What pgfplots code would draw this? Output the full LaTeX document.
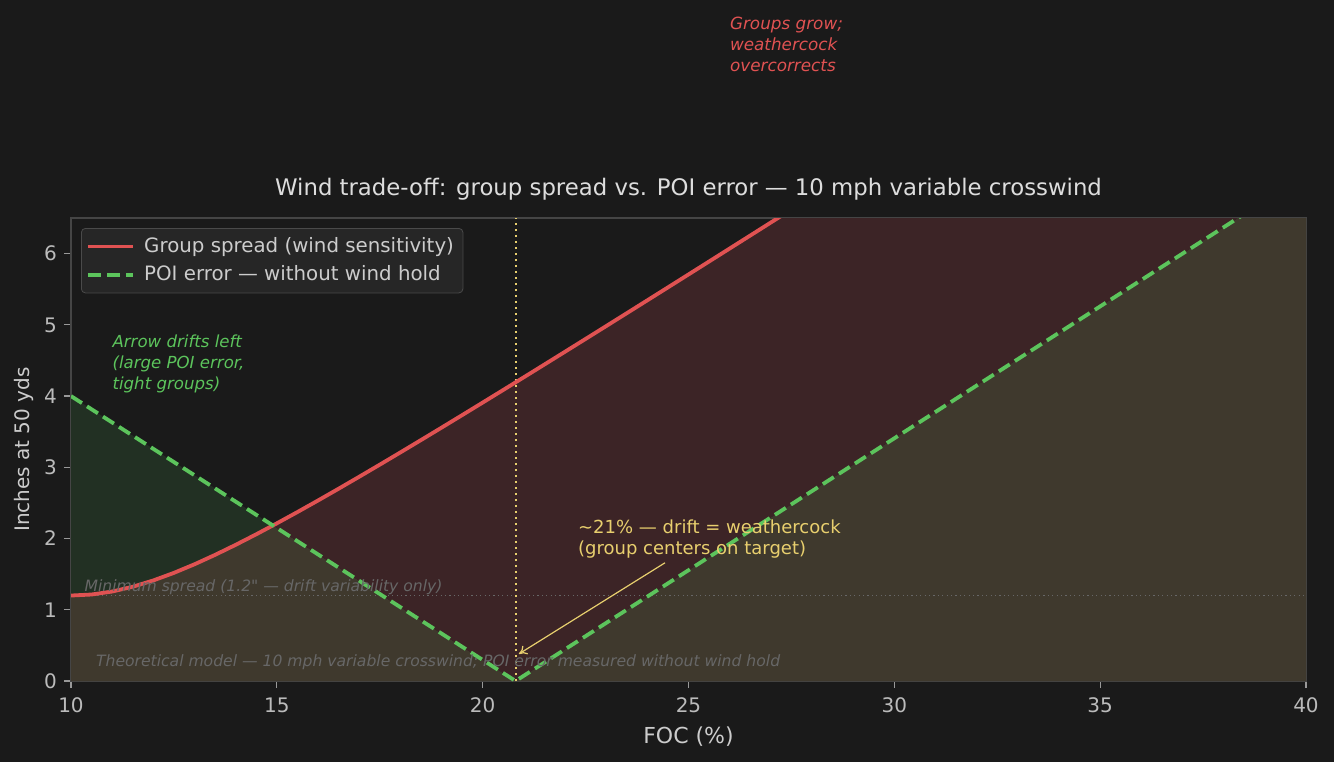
\documentclass[border=0pt]{standalone}
\usepackage{fontspec}
\setmainfont{DejaVu Sans}[Ligatures=TeXOff]
\usepackage{pgfplots}
\pgfplotsset{compat=1.18}
\usetikzlibrary{arrows.meta}

\definecolor{bg}{HTML}{1A1A1A}
\definecolor{spine}{HTML}{454545}
\definecolor{tickc}{HTML}{999999}
\definecolor{tickl}{HTML}{BBBBBB}
\definecolor{labc}{HTML}{CCCCCC}
\definecolor{titlec}{HTML}{DDDDDD}
\definecolor{legbg}{HTML}{262626}
\definecolor{legedge}{HTML}{4A4A4A}
\definecolor{spreadc}{HTML}{E05252}
\definecolor{poic}{HTML}{5CC45C}
\definecolor{yelc}{HTML}{E8CF6E}
\definecolor{greyt}{HTML}{676767}
\definecolor{olivef}{HTML}{3F392D}
\definecolor{redf}{HTML}{3C2426}
\definecolor{greenf}{HTML}{223023}

\begin{document}
\begin{tikzpicture}
\fill[bg] (0,0) rectangle (667pt,381pt);
\useasboundingbox (0,0) rectangle (667pt,381pt);
\begin{axis}[
    at={(35.5pt,40.5pt)}, anchor=south west,
    scale only axis, width=617.5pt, height=231.5pt,
    xmin=10, xmax=40, ymin=0, ymax=6.5,
    xtick={10,15,...,40}, ytick={0,1,...,6},
    clip mode=individual,
    axis line style={color=spine, line width=0.6pt},
    tick align=outside, major tick length=3.5pt,
    every tick/.style={color=tickc, line width=0.6pt},
    xtick pos=bottom, ytick pos=left,
    /pgf/number format/assume math mode=true,
    tick label style={font=\fontsize{10}{12}\selectfont, text=tickl},
    xticklabel style={yshift=-1.5pt},
    xlabel={FOC (\%)},
    ylabel={Inches at 50 yds},
    label style={text=labc},
    xlabel style={at={(axis description cs:0.5,-0.1209)}, anchor=center,
        font=\fontsize{11}{13}\selectfont},
    ylabel style={at={(axis description cs:-0.0381,0.5)}, anchor=center,
        font=\fontsize{10}{12}\selectfont},
    title={Wind trade-off: group spread vs. POI error — 10 mph variable crosswind},
    title style={at={(axis description cs:0.5,1.0518)}, anchor=base, yshift=-6.5pt,
        font=\fontsize{11.4}{13.5}\selectfont, text=titlec},
    legend style={at={(axis description cs:0,1)}, anchor=north west,
        xshift=5pt, yshift=-5pt, fill=legbg, draw=legedge, rounded corners=2pt,
        text=labc, font=\fontsize{9.9}{12}\selectfont,
        inner xsep=2.5pt, inner ysep=2.5pt, row sep=1.2pt},
    legend cell align=left,
    legend image code/.code={\draw[#1] (0pt,0pt) -- (22.5pt,0pt); \path (25pt,0pt);},
]

% olive: under the lower of the two curves
\addplot[forget plot, draw=none, fill=olivef] coordinates {
    (10,0) (10,1.2) (10.5,1.2143) (11,1.2563) (11.5,1.3234) (12,1.4119)
    (12.5,1.5182) (13,1.6387) (13.5,1.7707) (14,1.9116) (14.5,2.0597)
    (14.905,2.184) (20.8,0) (40,7.1111) (40,0)
};
% green: POI error above spread
\addplot[forget plot, draw=none, fill=greenf] coordinates {
    (10,4) (14.905,2.184) (14.5,2.0597) (14,1.9116) (13.5,1.7707) (13,1.6387)
    (12.5,1.5182) (12,1.4119) (11.5,1.3234) (11,1.2563) (10.5,1.2143) (10,1.2)
};
% red: spread above POI error
\addplot[forget plot, draw=none, fill=redf] coordinates {
    (14.905,2.184) (15,2.2135) (15.5,2.3719) (16,2.5341) (16.5,2.6994)
    (17,2.8672) (17.5,3.0371) (18,3.2088) (18.5,3.3820) (19,3.5566)
    (19.5,3.7322) (20,3.9088) (20.5,4.0862) (21,4.2643) (21.5,4.4431)
    (22,4.6225) (22.5,4.8024) (23,4.9827) (23.5,5.1634) (24,5.3445)
    (24.5,5.5259) (25,5.7076) (25.5,5.8896) (26,6.0718) (26.5,6.2542)
    (27,6.4369) (27.5,6.6197) (28,6.8027) (29,7.1692) (30,7.5362)
    (32,8.2716) (35,9.3771) (40,11.2243) (40,7.1111) (20.8,0)
};

% reference lines
\addplot[forget plot, color=greyt, line width=0.55pt, dash pattern=on 0.6pt off 1.6pt]
    coordinates {(10,1.2) (40,1.2)};
\addplot[forget plot, color=yelc, line width=1pt, dash pattern=on 1pt off 2pt]
    coordinates {(20.8,0) (20.8,6.5)};

% group spread
\addplot[color=spreadc, line width=1.9pt] coordinates {
    (10,1.2) (10.5,1.2143) (11,1.2563) (11.5,1.3234) (12,1.4119)
    (12.5,1.5182) (13,1.6387) (13.5,1.7707) (14,1.9116) (14.5,2.0597)
    (15,2.2135) (15.5,2.3719) (16,2.5341) (16.5,2.6994) (17,2.8672)
    (17.5,3.0371) (18,3.2088) (18.5,3.3820) (19,3.5566) (19.5,3.7322)
    (20,3.9088) (20.5,4.0862) (21,4.2643) (21.5,4.4431) (22,4.6225)
    (22.5,4.8024) (23,4.9827) (23.5,5.1634) (24,5.3445) (24.5,5.5259)
    (25,5.7076) (25.5,5.8896) (26,6.0718) (26.5,6.2542) (27,6.4369)
    (27.5,6.6197) (28,6.8027) (29,7.1692) (30,7.5362) (32,8.2716)
    (35,9.3771) (40,11.2243)
};
\addlegendentry{Group spread (wind sensitivity)}

% POI error
\addplot[color=poic, line width=1.9pt, dash pattern=on 6.5pt off 3pt] coordinates {
    (10,4) (20.8,0) (40,7.1111)
};
\addlegendentry{POI error — without wind hold}

% annotations
\node[anchor=north west, inner sep=0pt, align=left, text=spreadc,
      font=\fontsize{8.4}{10.5}\selectfont\itshape] at (axis cs:26,9.33)
      {Groups grow;\\weathercock\\overcorrects};
\node[anchor=north west, inner sep=0pt, align=left, text=poic,
      font=\fontsize{8.3}{10.4}\selectfont\itshape] at (axis cs:11,4.86)
      {Arrow drifts left\\(large POI error,\\tight groups)};
\node[anchor=north west, inner sep=0pt, align=left, text=yelc,
      font=\fontsize{9}{10.8}\selectfont] at (axis cs:22.31,2.27)
      {\textasciitilde 21\% — drift = weathercock\\(group centers on target)};
\draw[-{To[length=4pt,width=5pt]}, color=yelc, line width=0.6pt]
      (axis cs:24.43,1.66) -- (axis cs:20.88,0.38);
\node[anchor=base west, inner sep=0pt, text=greyt,
      font=\fontsize{7.8}{10}\selectfont\itshape] at (axis cs:10.32,1.25)
      {Minimum spread (1.2" — drift variability only)};
\node[anchor=base west, inner sep=0pt, text=greyt,
      font=\fontsize{7.8}{10}\selectfont\itshape] at (axis cs:10.6,0.2)
      {Theoretical model — 10 mph variable crosswind; POI error measured without wind hold};
\end{axis}
\end{tikzpicture}
\end{document}
